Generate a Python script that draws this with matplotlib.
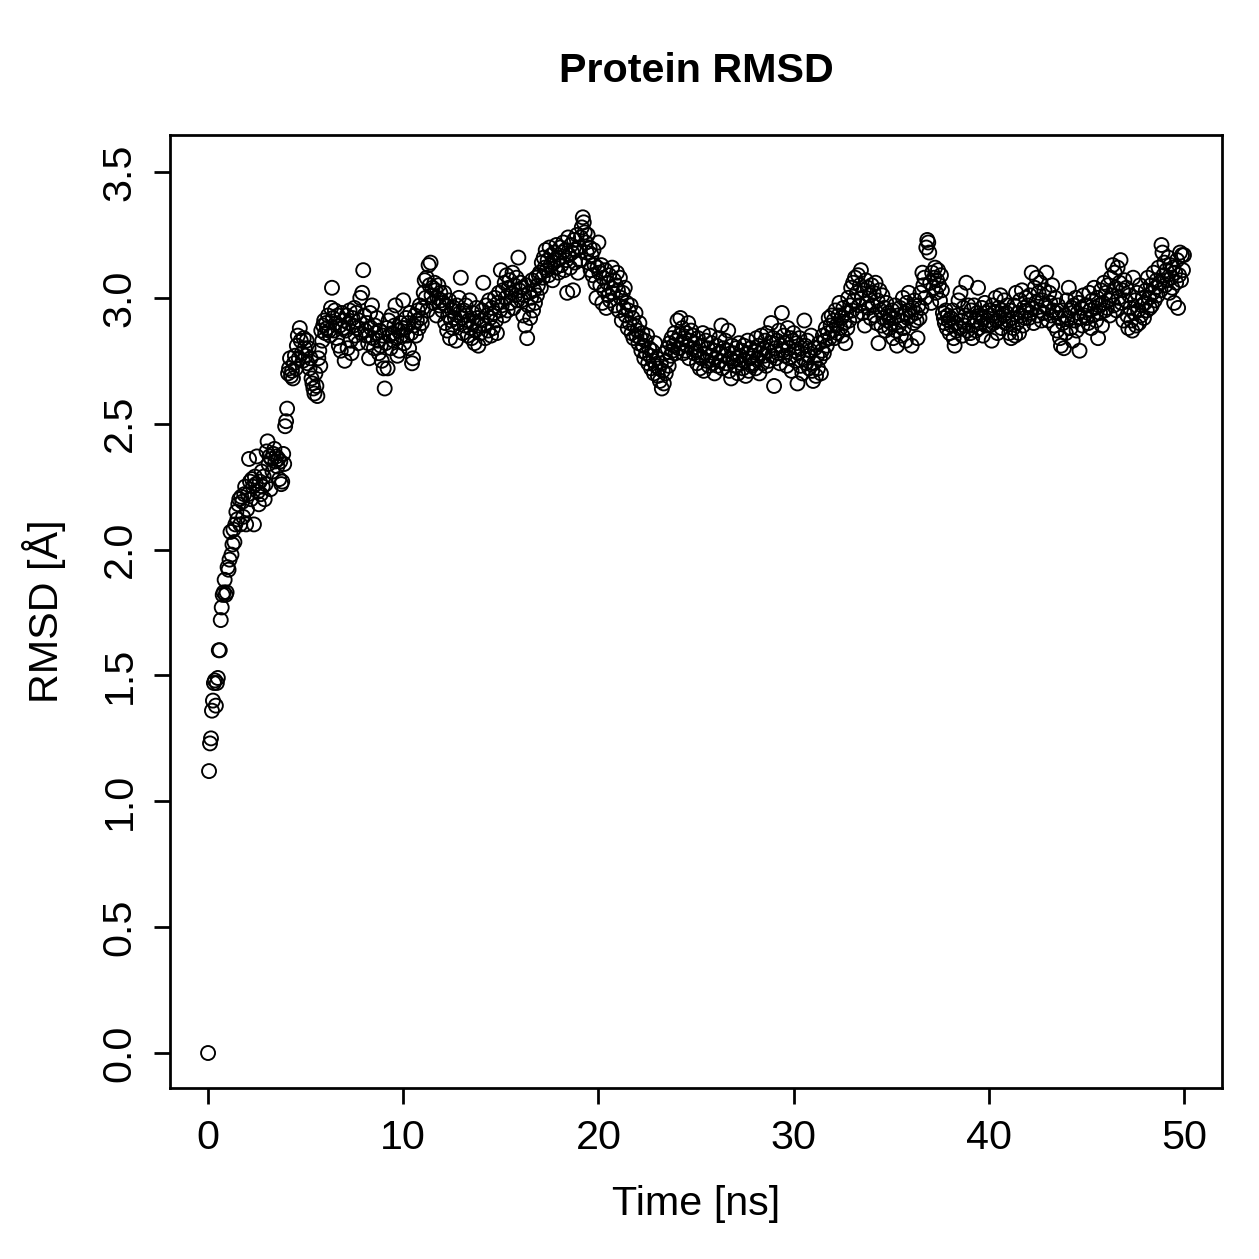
import matplotlib
matplotlib.use("Agg")
import matplotlib.pyplot as plt
import numpy as np

# RMSD values, one row per nanosecond (20 frames / ns)
frame_step = 0.05  # ns between frames
rmsd_rows = [
    [0.00, 1.12, 1.23, 1.25, 1.36, 1.40, 1.47, 1.48, 1.38, 1.47, 1.49, 1.60, 1.60, 1.72, 1.77, 1.82, 1.83, 1.88, 1.82, 1.83],
    [1.93, 1.92, 1.96, 2.07, 1.98, 2.02, 2.08, 2.03, 2.10, 2.15, 2.12, 2.18, 2.20, 2.10, 2.21, 2.19, 2.13, 2.22, 2.25, 2.10],
    [2.16, 2.22, 2.36, 2.27, 2.20, 2.28, 2.25, 2.10, 2.29, 2.26, 2.37, 2.23, 2.18, 2.27, 2.22, 2.31, 2.25, 2.29, 2.20, 2.26],
    [2.39, 2.43, 2.34, 2.37, 2.24, 2.36, 2.31, 2.38, 2.40, 2.35, 2.37, 2.33, 2.36, 2.28, 2.35, 2.26, 2.27, 2.38, 2.34, 2.49],
    [2.51, 2.56, 2.70, 2.72, 2.76, 2.69, 2.71, 2.68, 2.74, 2.77, 2.72, 2.81, 2.85, 2.76, 2.88, 2.83, 2.78, 2.75, 2.84, 2.80],
    [2.77, 2.83, 2.74, 2.80, 2.72, 2.76, 2.68, 2.66, 2.64, 2.62, 2.70, 2.65, 2.61, 2.76, 2.79, 2.73, 2.87, 2.83, 2.89, 2.91],
    [2.86, 2.90, 2.88, 2.93, 2.87, 2.85, 2.96, 3.04, 2.92, 2.87, 2.95, 2.90, 2.84, 2.93, 2.81, 2.89, 2.79, 2.94, 2.88, 2.91],
    [2.75, 2.87, 2.93, 2.80, 2.90, 2.95, 2.83, 2.78, 2.92, 2.89, 2.96, 2.85, 2.94, 2.88, 2.82, 2.91, 3.00, 2.86, 3.02, 3.11],
    [2.93, 2.87, 2.85, 2.90, 2.82, 2.76, 2.94, 2.88, 2.97, 2.84, 2.80, 2.89, 2.86, 2.92, 2.83, 2.78, 2.87, 2.81, 2.75, 2.85],
    [2.72, 2.64, 2.82, 2.88, 2.72, 2.91, 2.85, 2.80, 2.93, 2.86, 2.83, 2.89, 2.97, 2.84, 2.77, 2.87, 2.79, 2.90, 2.85, 2.88],
    [2.99, 2.82, 2.88, 2.92, 2.85, 2.90, 2.80, 2.94, 2.86, 2.74, 2.76, 2.89, 2.93, 2.85, 2.91, 2.95, 2.88, 2.97, 2.92, 2.90],
    [2.96, 3.02, 3.07, 3.00, 3.08, 2.95, 3.13, 3.05, 3.14, 3.01, 3.04, 2.98, 3.06, 3.03, 2.93, 3.00, 3.05, 2.97, 3.02, 2.99],
    [2.95, 2.98, 3.02, 2.90, 2.97, 2.87, 2.93, 2.99, 2.84, 2.91, 2.95, 2.88, 2.96, 2.92, 2.83, 2.97, 2.90, 3.00, 2.94, 3.08],
    [2.92, 2.86, 2.95, 2.89, 2.97, 2.93, 2.85, 2.91, 2.99, 2.88, 2.84, 2.94, 2.90, 2.82, 2.87, 2.96, 2.92, 2.81, 2.89, 2.86],
    [2.91, 2.95, 3.06, 2.89, 2.84, 2.97, 2.93, 2.87, 2.99, 2.92, 2.85, 2.96, 2.88, 2.94, 3.00, 2.91, 2.86, 2.98, 3.02, 2.95],
    [3.11, 2.97, 3.03, 2.93, 3.06, 3.00, 3.09, 2.95, 3.04, 3.07, 2.98, 3.02, 3.10, 2.96, 3.05, 3.01, 3.08, 2.99, 3.16, 3.03],
    [3.06, 2.99, 3.04, 2.93, 3.01, 2.89, 3.05, 2.84, 2.97, 3.02, 2.92, 3.00, 3.07, 2.95, 3.03, 2.98, 3.08, 3.01, 3.05, 3.09],
    [3.10, 3.04, 3.14, 3.08, 3.16, 3.12, 3.19, 3.11, 3.15, 3.09, 3.20, 3.13, 3.17, 3.07, 3.14, 3.18, 3.12, 3.21, 3.15, 3.10],
    [3.16, 3.20, 3.13, 3.18, 3.22, 3.11, 3.19, 3.15, 3.02, 3.24, 3.17, 3.12, 3.21, 3.18, 3.03, 3.23, 3.14, 3.19, 3.25, 3.10],
    [3.20, 3.15, 3.24, 3.28, 3.32, 3.30, 3.26, 3.22, 3.18, 3.25, 3.14, 3.20, 3.11, 3.17, 3.09, 3.19, 3.13, 3.06, 3.00, 3.12],
    [3.22, 3.10, 3.05, 3.13, 2.98, 3.08, 3.03, 3.11, 2.96, 3.06, 3.01, 3.09, 2.99, 3.04, 3.12, 3.02, 3.07, 2.97, 3.05, 3.10],
    [3.03, 2.95, 3.08, 3.00, 2.91, 3.02, 2.96, 3.04, 2.93, 2.98, 2.88, 2.95, 2.90, 2.97, 2.86, 2.92, 2.84, 2.89, 2.94, 2.85],
    [2.87, 2.82, 2.90, 2.84, 2.79, 2.86, 2.81, 2.76, 2.83, 2.78, 2.85, 2.74, 2.80, 2.77, 2.72, 2.79, 2.75, 2.70, 2.82, 2.73],
    [2.76, 2.69, 2.72, 2.67, 2.74, 2.64, 2.71, 2.66, 2.78, 2.70, 2.75, 2.80, 2.73, 2.82, 2.77, 2.84, 2.79, 2.81, 2.86, 2.78],
    [2.83, 2.91, 2.80, 2.85, 2.92, 2.82, 2.88, 2.78, 2.84, 2.79, 2.86, 2.81, 2.90, 2.76, 2.83, 2.87, 2.80, 2.85, 2.78, 2.82],
    [2.79, 2.74, 2.84, 2.77, 2.72, 2.81, 2.76, 2.86, 2.71, 2.78, 2.83, 2.75, 2.80, 2.73, 2.85, 2.77, 2.82, 2.74, 2.79, 2.70],
    [2.76, 2.81, 2.73, 2.78, 2.84, 2.75, 2.89, 2.72, 2.80, 2.77, 2.83, 2.74, 2.79, 2.87, 2.71, 2.76, 2.68, 2.81, 2.75, 2.78],
    [2.73, 2.80, 2.76, 2.70, 2.82, 2.77, 2.74, 2.79, 2.72, 2.81, 2.75, 2.69, 2.78, 2.83, 2.71, 2.76, 2.80, 2.73, 2.77, 2.74],
    [2.79, 2.72, 2.84, 2.76, 2.81, 2.70, 2.78, 2.85, 2.74, 2.80, 2.77, 2.83, 2.73, 2.86, 2.79, 2.75, 2.82, 2.90, 2.77, 2.84],
    [2.65, 2.80, 2.76, 2.83, 2.78, 2.87, 2.74, 2.81, 2.94, 2.79, 2.85, 2.77, 2.82, 2.73, 2.88, 2.80, 2.76, 2.84, 2.71, 2.83],
    [2.86, 2.79, 2.75, 2.82, 2.66, 2.78, 2.84, 2.73, 2.80, 2.70, 2.76, 2.91, 2.81, 2.74, 2.83, 2.77, 2.72, 2.79, 2.85, 2.71],
    [2.67, 2.74, 2.80, 2.69, 2.77, 2.72, 2.82, 2.76, 2.70, 2.79, 2.85, 2.78, 2.83, 2.88, 2.81, 2.86, 2.92, 2.84, 2.89, 2.93],
    [2.87, 2.91, 2.84, 2.95, 2.89, 2.86, 2.93, 2.98, 2.88, 2.92, 2.85, 2.96, 2.90, 2.82, 2.94, 2.88, 3.00, 2.91, 2.97, 3.04],
    [2.95, 3.06, 2.99, 3.08, 2.93, 3.02, 3.09, 2.97, 3.05, 3.11, 3.00, 2.94, 3.03, 2.89, 3.07, 2.98, 3.04, 2.96, 3.01, 2.92],
    [3.05, 2.97, 3.02, 2.93, 3.06, 2.90, 2.99, 2.82, 3.03, 2.95, 2.89, 3.01, 2.92, 2.96, 2.87, 2.98, 2.91, 2.94, 2.88, 2.93],
    [2.90, 2.95, 2.84, 2.92, 2.97, 2.87, 2.81, 2.93, 2.89, 2.96, 2.85, 2.91, 3.00, 2.88, 2.94, 2.83, 2.98, 2.92, 3.02, 2.95],
    [2.93, 2.81, 2.96, 2.90, 2.99, 2.94, 2.91, 2.84, 2.97, 2.92, 3.02, 2.96, 3.10, 3.05, 3.08, 3.00, 3.20, 3.23, 3.22, 3.18],
    [3.06, 2.98, 3.10, 3.04, 3.08, 3.12, 3.02, 3.07, 3.11, 3.05, 2.99, 3.09, 3.03, 2.94, 2.92, 2.90, 2.95, 2.88, 2.93, 2.91],
    [2.86, 2.92, 2.89, 2.95, 2.84, 2.81, 2.90, 2.87, 2.93, 2.99, 2.88, 3.02, 2.91, 2.85, 2.96, 2.89, 2.93, 3.06, 2.87, 2.97],
    [2.92, 2.86, 2.95, 2.84, 2.89, 2.97, 2.91, 2.87, 2.94, 3.04, 2.88, 2.93, 2.90, 2.96, 2.85, 2.92, 2.98, 2.89, 2.94, 2.91],
    [2.95, 2.89, 2.93, 2.83, 2.97, 2.90, 2.94, 3.00, 2.91, 2.86, 2.96, 2.92, 3.01, 2.88, 2.95, 2.93, 2.99, 2.90, 2.94, 2.97],
    [2.91, 2.86, 2.95, 2.84, 2.92, 2.88, 2.97, 2.85, 3.02, 2.90, 2.94, 2.86, 2.99, 2.93, 3.03, 2.89, 2.96, 2.92, 3.00, 2.95],
    [2.97, 2.92, 3.01, 2.94, 3.10, 2.96, 2.90, 3.04, 2.98, 3.08, 2.93, 3.02, 2.95, 3.06, 2.91, 2.99, 2.94, 3.03, 2.97, 3.10],
    [2.96, 2.91, 3.02, 2.98, 2.93, 3.05, 2.95, 2.89, 3.00, 2.94, 2.87, 2.97, 2.92, 2.84, 2.81, 2.95, 2.90, 2.80, 2.93, 2.86],
    [2.99, 2.92, 3.04, 2.95, 2.88, 2.96, 2.83, 2.97, 2.91, 3.00, 2.87, 2.94, 2.98, 2.79, 2.92, 2.96, 2.89, 3.01, 2.93, 2.97],
    [2.92, 2.97, 2.90, 3.02, 2.95, 2.88, 2.99, 2.93, 3.04, 2.96, 2.91, 3.00, 2.84, 2.97, 2.94, 3.03, 2.89, 2.98, 3.06, 2.95],
    [3.02, 2.96, 3.05, 2.99, 2.93, 3.08, 3.01, 3.13, 2.97, 3.10, 3.04, 2.95, 3.12, 3.00, 3.06, 3.15, 2.98, 3.03, 2.91, 3.07],
    [2.99, 3.04, 2.93, 2.88, 3.01, 2.96, 2.91, 2.87, 3.08, 2.94, 2.99, 2.89, 3.02, 2.95, 2.90, 3.05, 2.93, 2.97, 3.00, 2.92],
    [2.98, 3.03, 2.95, 3.08, 3.00, 2.96, 3.05, 2.97, 3.02, 3.10, 2.99, 3.04, 3.07, 3.01, 3.12, 3.06, 3.03, 3.21, 3.18, 3.09],
    [3.14, 3.05, 3.11, 3.07, 3.16, 3.02, 3.13, 3.08, 3.04, 3.12, 2.98, 3.10, 3.06, 3.15, 2.96, 3.09, 3.18, 3.07, 3.17, 3.11],
    [3.17],
]

rmsd = np.concatenate([np.array(r) for r in rmsd_rows])
time = np.arange(len(rmsd)) * frame_step

x_ticks = [0, 10, 20, 30, 40, 50]
y_ticks = [0.0, 0.5, 1.0, 1.5, 2.0, 2.5, 3.0, 3.5]

plt.rcParams['font.family'] = ['Liberation Sans', 'DejaVu Sans']

fig = plt.figure(figsize=(1259 / 180, 1259 / 180), dpi=180)
ax = fig.add_axes([170 / 1259, 1 - 1088 / 1259, (1222 - 170) / 1259, (1088 - 135) / 1259])

ax.scatter(time, rmsd, s=5.6 ** 2, facecolors='none', edgecolors='black', linewidths=0.75)

ax.set_xlim(-1.95, 51.95)
ax.set_ylim(-0.139, 3.647)
ax.set_xticks(x_ticks)
ax.set_xticklabels([str(v) for v in x_ticks])
ax.set_yticks(y_ticks)
ax.set_yticklabels([f"{v:.1f}" for v in y_ticks], rotation=90, va='center')

for s in ax.spines.values():
    s.set_linewidth(1.1)
ax.tick_params(direction='out', length=6.5, width=1.1, labelsize=16.5, pad=6)

ax.set_xlabel("Time [ns]", fontsize=16.5, labelpad=11)
ax.set_ylabel("RMSD [Å]", fontsize=16.5, labelpad=14)
ax.set_title("Protein RMSD", fontsize=16.5, fontweight='bold', pad=21)

fig.savefig('out.png', dpi=180)
